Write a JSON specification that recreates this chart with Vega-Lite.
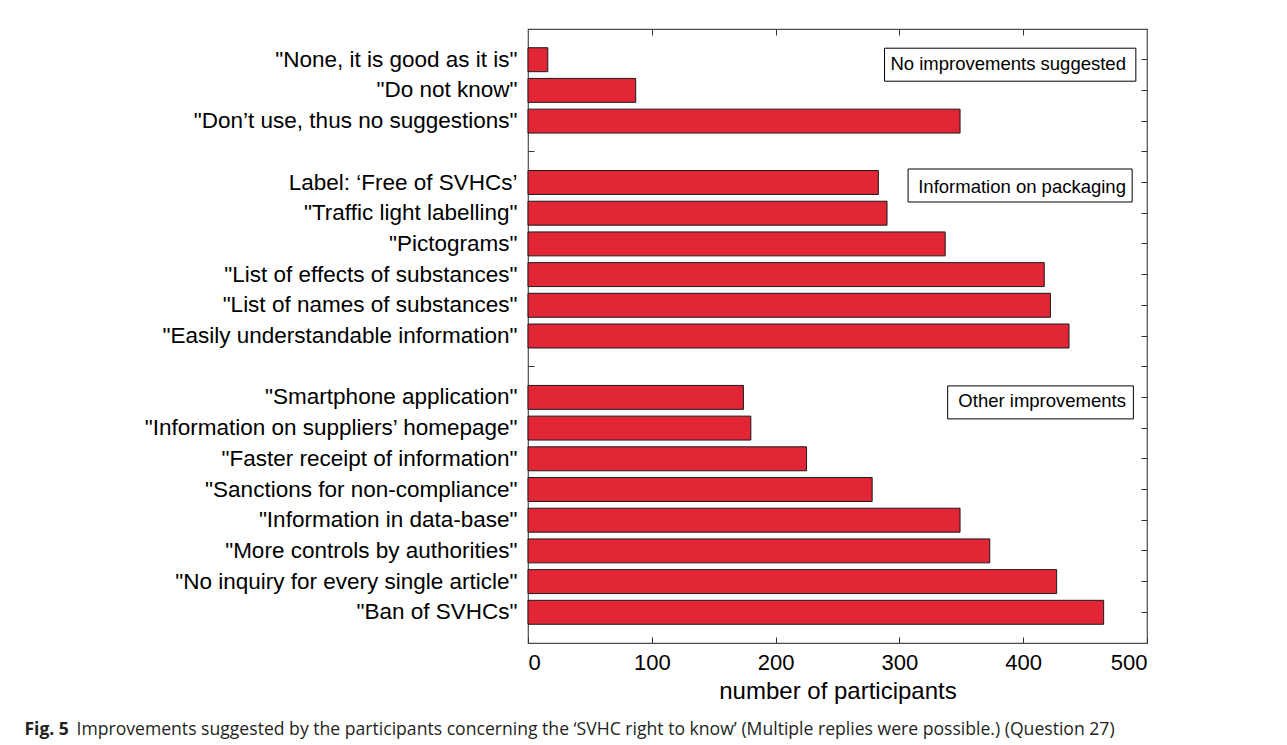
{
  "$schema": "https://vega.github.io/schema/vega-lite/v6.json",
  "autosize": "none",
  "width": 619,
  "height": 614,
  "padding": {"left": 528, "top": 29, "right": 140, "bottom": 102},
  "background": "white",
  "config": {
    "font": "Liberation Sans",
    "view": {"stroke": "#4d4d4d", "strokeWidth": 1.2},
    "axis": {
      "domain": false,
      "grid": false,
      "tickColor": "#333333",
      "tickWidth": 1,
      "tickSize": -6,
      "labelColor": "#000000",
      "titleColor": "#000000",
      "labelFont": "Liberation Sans",
      "titleFont": "Liberation Sans",
      "titleFontWeight": "normal",
      "labelLimit": 0
    }
  },
  "datasets": {
    "answers": [
      {"item": "\"None, it is good as it is\"", "n": 16},
      {"item": "\"Do not know\"", "n": 87},
      {"item": "\"Don’t use, thus no suggestions\"", "n": 349},
      {"item": "Label: ‘Free of SVHCs’", "n": 283},
      {"item": "\"Traffic light labelling\"", "n": 290},
      {"item": "\"Pictograms\"", "n": 337},
      {"item": "\"List of effects of substances\"", "n": 417},
      {"item": "\"List of names of substances\"", "n": 422},
      {"item": "\"Easily understandable information\"", "n": 437},
      {"item": "\"Smartphone application\"", "n": 174},
      {"item": "\"Information on suppliers’ homepage\"", "n": 180},
      {"item": "\"Faster receipt of information\"", "n": 225},
      {"item": "\"Sanctions for non-compliance\"", "n": 278},
      {"item": "\"Information in data-base\"", "n": 349},
      {"item": "\"More controls by authorities\"", "n": 373},
      {"item": "\"No inquiry for every single article\"", "n": 427},
      {"item": "\"Ban of SVHCs\"", "n": 465}
    ],
    "groups": [
      {"item": "\"None, it is good as it is\"", "label": "No improvements suggested"},
      {"item": "Label: ‘Free of SVHCs’", "label": "Information on packaging"},
      {"item": "\"Smartphone application\"", "label": "Other improvements"}
    ]
  },
  "resolve": {"axis": {"x": "independent", "y": "independent"}},
  "layer": [
    {
      "data": {"name": "answers"},
      "mark": {"type": "bar", "fill": "#e22636", "stroke": "#1a1a1a", "strokeWidth": 1},
      "encoding": {
        "y": {
          "field": "item",
          "type": "nominal",
          "sort": null,
          "scale": {
            "domain": [
              "\"None, it is good as it is\"", "\"Do not know\"", "\"Don’t use, thus no suggestions\"", " ",
              "Label: ‘Free of SVHCs’", "\"Traffic light labelling\"", "\"Pictograms\"", "\"List of effects of substances\"", "\"List of names of substances\"", "\"Easily understandable information\"", "  ",
              "\"Smartphone application\"", "\"Information on suppliers’ homepage\"", "\"Faster receipt of information\"", "\"Sanctions for non-compliance\"", "\"Information in data-base\"", "\"More controls by authorities\"", "\"No inquiry for every single article\"", "\"Ban of SVHCs\""
            ],
            "paddingInner": 0.22,
            "paddingOuter": 0.61
          },
          "axis": {
            "orient": "left",
            "title": "Fig. 5",
            "titleFont": "Open Sans",
            "titleFontSize": 17.5,
            "titleFontWeight": "bold",
            "titleColor": "#231f20",
            "titleAngle": 0,
            "titleAlign": "left",
            "titleBaseline": "alphabetic",
            "titleX": -504,
            "titleY": 705,
            "labelFontSize": 22.5,
            "labelPadding": 17
          }
        },
        "x": {
          "field": "n",
          "type": "quantitative",
          "scale": {"domain": [0, 500], "nice": false},
          "axis": {
            "orient": "bottom",
            "values": [0, 100, 200, 300, 400, 500],
            "title": "number of participants",
            "labelFontSize": 22,
            "labelPadding": 15,
            "titleFontSize": 24,
            "titlePadding": 6
          }
        }
      }
    },
    {
      "data": {"values": [{}]},
      "mark": {"type": "bar", "fill": "white", "stroke": "#000000", "strokeWidth": 1, "height": 33, "yOffset": 5},
      "encoding": {
        "y": {"datum": "\"None, it is good as it is\"", "type": "nominal", "axis": null},
        "x": {"datum": 288, "type": "quantitative", "axis": null},
        "x2": {"datum": 491}
      }
    },
    {
      "data": {"values": [{}]},
      "mark": {"type": "bar", "fill": "white", "stroke": "#000000", "strokeWidth": 1, "height": 33, "yOffset": 3},
      "encoding": {
        "y": {"datum": "Label: ‘Free of SVHCs’", "type": "nominal", "axis": null},
        "x": {"datum": 307, "type": "quantitative", "axis": null},
        "x2": {"datum": 488}
      }
    },
    {
      "data": {"values": [{}]},
      "mark": {"type": "bar", "fill": "white", "stroke": "#000000", "strokeWidth": 1, "height": 33, "yOffset": 5},
      "encoding": {
        "y": {"datum": "\"Smartphone application\"", "type": "nominal", "axis": null},
        "x": {"datum": 339, "type": "quantitative", "axis": null},
        "x2": {"datum": 489}
      }
    },
    {
      "data": {"name": "groups"},
      "mark": {"type": "text", "align": "right", "baseline": "middle", "fontSize": 18.5, "color": "#000000", "yOffset": 4},
      "encoding": {
        "text": {"field": "label"},
        "y": {
          "field": "item",
          "type": "nominal",
          "sort": null,
          "axis": {
            "orient": "right",
            "labels": false,
            "title": "Improvements suggested by the participants concerning the ‘SVHC right to know’ (Multiple replies were possible.) (Question 27)",
            "titleFont": "Open Sans",
            "titleFontSize": 17.6,
            "titleColor": "#231f20",
            "titleAngle": 0,
            "titleAlign": "left",
            "titleBaseline": "alphabetic",
            "titleLimit": 1250,
            "titleX": -1071,
            "titleY": 705
          }
        },
        "x": {
          "datum": 483,
          "type": "quantitative",
          "axis": {"orient": "top", "title": null, "labels": false, "values": [100, 200, 300, 400]}
        }
      }
    }
  ]
}
